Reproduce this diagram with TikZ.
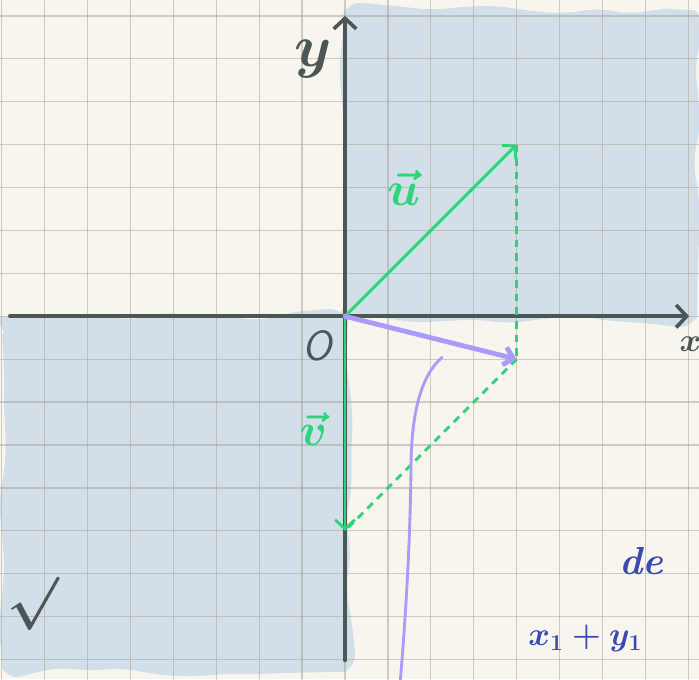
\documentclass[tikz,border=0pt]{standalone}
\usepackage{amsmath}
\usepackage{xcolor}
\definecolor{paper}{HTML}{F8F5EE}
\definecolor{gridgray}{HTML}{A8A196}
\definecolor{blobblue}{HTML}{D2DEE8}
\definecolor{slate}{HTML}{4B5757}
\definecolor{mint}{HTML}{2ED47A}
\definecolor{lilac}{HTML}{A99BF7}
\definecolor{inkblue}{HTML}{3A4AB0}
\usetikzlibrary{arrows.meta,decorations.pathmorphing,backgrounds}

\begin{document}
\begin{tikzpicture}[
  line cap=round,
  gridline/.style={draw=gridgray, line width=0.85pt, opacity=0.5},
  blob/.style={
    fill=blobblue, draw=blobblue, line width=5pt, line join=round,
    decorate, decoration={random steps, segment length=22pt, amplitude=3.5pt},
    rounded corners=10pt,
  },
  axis/.style={draw=slate, line width=2.4pt,
    -{Straight Barb[length=7pt,width=15pt]}},
  vecgreen/.style={draw=mint, line width=1.9pt,
    -{Straight Barb[length=6pt,width=13pt]}},
  vecpurple/.style={draw=lilac, line width=3.2pt,
    -{Straight Barb[length=6pt,width=12pt]}},
  helper/.style={draw=mint, line width=1.9pt, dash pattern=on 5pt off 4pt, line cap=butt},
  hand/.style={inner sep=0pt, font=\huge\boldmath},
]

% === PAPER ===
\useasboundingbox (-8.04,-8.46) rectangle (8.25,7.37);
\fill[paper] (-8.04,-8.46) rectangle (8.25,7.37);

% === SHADED QUADRANTS ===
\pgfmathsetseed{11}
\fill[blob] (0.05,0.0) rectangle (8.12,7.05);
\fill[blob] (-7.9,-0.1) rectangle (-0.02,-8.2);

% === GRID ===
\foreach \gx in {-8,...,8}
  \draw[gridline] (\gx,-8.46) -- (\gx,7.37);
\foreach \gy in {-8,...,7}
  \draw[gridline] (-8.04,\gy) -- (8.25,\gy);

% === POINTS ===
\coordinate (O) at (0,0);
\coordinate (U) at (4,4);
\coordinate (W) at (4,-1);
\coordinate (V) at (0,-5);
\coordinate (xstart) at (-7.81,0);
\coordinate (xend) at (8.02,0);
\coordinate (ystart) at (0,-8.02);
\coordinate (yend) at (0,7.0);

% === AXES ===
\draw[axis] (xstart) -- (xend);
\draw[axis] (ystart) -- (yend);

% === CONSTRUCTION LINES ===
\draw[helper] (U) -- (W);
\draw[helper] (W) -- (V);

% === VECTORS ===
\draw[vecgreen] (O) -- (U);
\draw[vecgreen] (O) -- (V);
\draw[vecpurple] (O) -- (W);

% === CURVE ===
\draw[lilac, line width=1.9pt] (2.26,-0.96)
  .. controls (1.75,-1.4) and (1.56,-2.3) .. (1.54,-3.4)
  .. controls (1.52,-5.4) and (1.4,-7.2) .. (1.28,-8.6);

% === LABELS ===
\node[hand, text=slate, scale=1.9] (ylab) at (-0.75,6.0) {$y$};
\node[hand, text=slate, scale=1.05] (xlab) at (8.05,-0.66) {$x$};
\node[hand, text=slate, scale=1.35, font=\huge\sffamily\itshape] (olab) at (-0.64,-0.68) {O};
\node[hand, text=mint, scale=1.55] (ulab) at (1.38,3.0) {$\vec{u}$};
\node[hand, text=mint, scale=1.45] (vlab) at (-0.74,-2.62) {$\vec{v}$};
\node[hand, text=slate, scale=1.7] (tick) at (-7.28,-6.7) {$\surd$};
\node[hand, text=inkblue, scale=1.25, font=\huge\bfseries\itshape] (de) at (6.9,-5.7) {de};
\node[hand, text=inkblue, scale=1.05] (sum) at (5.6,-7.5) {$x_1 + y_1$};

\end{tikzpicture}
\end{document}
